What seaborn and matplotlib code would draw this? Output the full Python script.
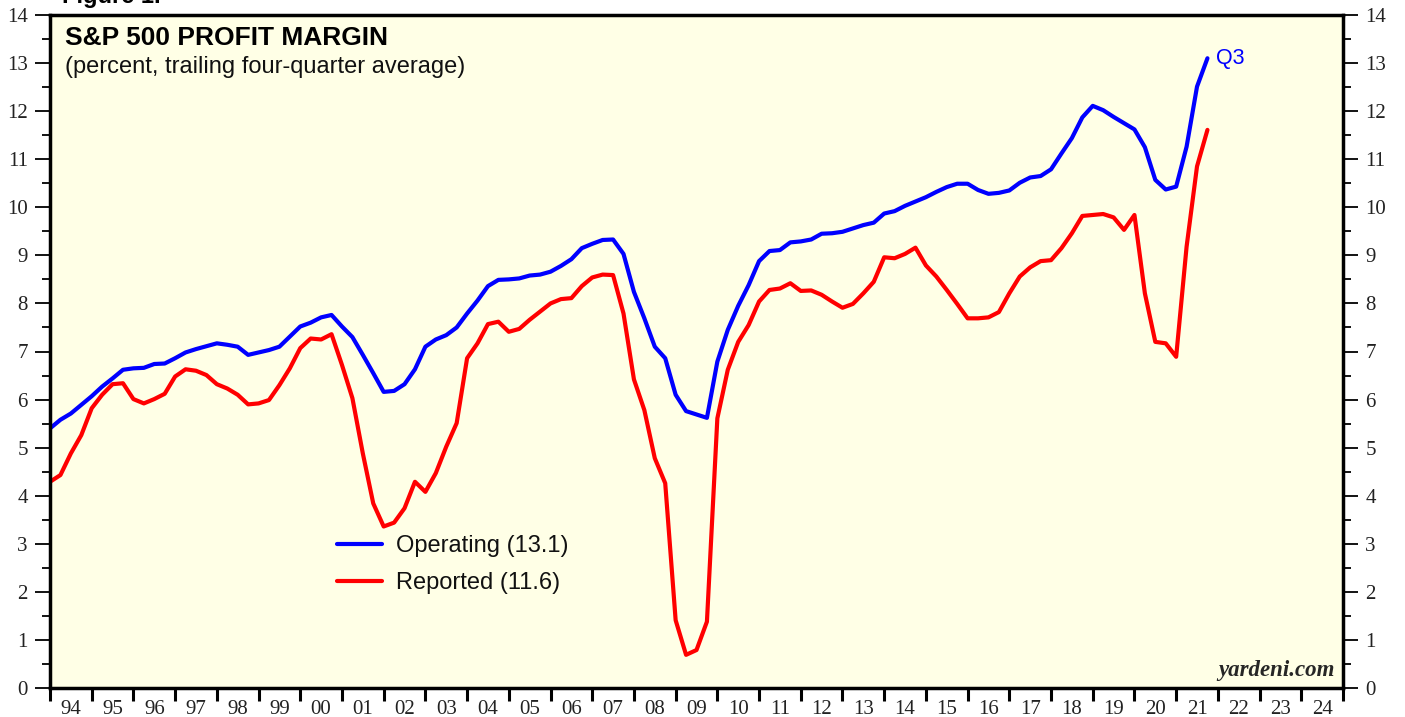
import numpy as np
import pandas as pd
import matplotlib
matplotlib.use('Agg')
import matplotlib.pyplot as plt
from matplotlib.lines import Line2D
from matplotlib.ticker import FixedLocator, MultipleLocator, NullFormatter, FixedFormatter
import seaborn as sns

# ---------------- data ----------------
quarters = pd.period_range('1993Q4', '2021Q3', freq='Q')

operating = [
    5.40, 5.58, 5.71, 5.89, 6.07, 6.27, 6.44, 6.62, 6.65, 6.66, 6.74, 6.75,
    6.86, 6.98, 7.05, 7.11, 7.17, 7.14, 7.10, 6.93, 6.98, 7.03, 7.10, 7.31,
    7.52, 7.60, 7.71, 7.76, 7.52, 7.30, 6.93, 6.55, 6.16, 6.18, 6.32, 6.63,
    7.10, 7.25, 7.34, 7.50, 7.79, 8.06, 8.36, 8.49, 8.50, 8.52, 8.58, 8.60,
    8.66, 8.78, 8.92, 9.15, 9.24, 9.32, 9.33, 9.03, 8.24, 7.69, 7.10, 6.86,
    6.10, 5.76, 5.69, 5.62, 6.79, 7.45, 7.95, 8.38,
    8.88, 9.09, 9.11, 9.27, 9.29, 9.33, 9.45, 9.46, 9.49, 9.56, 9.63, 9.68,
    9.87, 9.92, 10.03, 10.12, 10.21, 10.32, 10.42, 10.49, 10.49, 10.36, 10.28, 10.30,
    10.35, 10.51, 10.62, 10.65, 10.79, 11.12, 11.44, 11.87, 12.11, 12.02, 11.88, 11.75,
    11.62, 11.25, 10.57, 10.37, 10.43, 11.26, 12.51, 13.10,
]

reported = [
    4.29, 4.43, 4.88, 5.26, 5.82, 6.10, 6.32, 6.34, 6.01, 5.92, 6.01, 6.12,
    6.48, 6.63, 6.60, 6.51, 6.32, 6.23, 6.10, 5.90, 5.92, 5.99, 6.30, 6.65,
    7.07, 7.27, 7.25, 7.36, 6.72, 6.03, 4.88, 3.84, 3.36, 3.44, 3.74, 4.29,
    4.08, 4.47, 5.02, 5.51, 6.86, 7.17, 7.57, 7.62, 7.41, 7.47, 7.66, 7.83,
    8.00, 8.09, 8.11, 8.36, 8.54, 8.60, 8.59, 7.79, 6.42, 5.78, 4.78, 4.26,
    1.41, 0.69, 0.79, 1.38, 5.61, 6.62, 7.20, 7.55,
    8.04, 8.28, 8.31, 8.42, 8.26, 8.27, 8.18, 8.04, 7.91, 7.99, 8.21, 8.45,
    8.96, 8.94, 9.03, 9.16, 8.79, 8.56, 8.28, 7.99, 7.69, 7.69, 7.71, 7.82,
    8.21, 8.56, 8.75, 8.88, 8.90, 9.15, 9.46, 9.82, 9.84, 9.86, 9.79, 9.53,
    9.84, 8.21, 7.20, 7.17, 6.89, 9.18, 10.85, 11.61,
]

series_names = ['Operating', 'Reported']
legend_labels = ['Operating (13.1)', 'Reported (11.6)']
year_labels = ['94', '95', '96', '97', '98', '99', '00', '01', '02', '03', '04',
               '05', '06', '07', '08', '09', '10', '11', '12', '13', '14', '15',
               '16', '17', '18', '19', '20', '21', '22', '23', '24']
first_year = 1994

# ---------------- build frame ----------------
t = (quarters.year + quarters.quarter / 4.0).to_numpy(dtype=float)
n = len(t)
df = pd.DataFrame({
    't': np.concatenate([t, t]),
    'value': np.array(operating + reported),
    'series': [series_names[0]] * n + [series_names[1]] * n,
})

sns.set_theme(style='white')
plt.rcParams['font.family'] = ['Liberation Sans', 'DejaVu Sans']

colors = {'Operating': '#0000FF', 'Reported': '#FF0000'}
LW = 3.0

fig = plt.figure(figsize=(14.05, 7.17), dpi=100)
fig.patch.set_facecolor('white')
ax = fig.add_axes([50 / 1405, 29 / 717, 1293 / 1405, 673 / 717])
ax.set_facecolor('#FFFFE6')

sns.lineplot(data=df, x='t', y='value', hue='series', palette=colors,
             linewidth=LW, ax=ax, legend=False, sort=False)

n_years = len(year_labels)
ax.set_xlim(first_year, first_year + n_years)
ax.set_ylim(0, 14)
ax.set_xlabel('')
ax.set_ylabel('')

serif = ['Liberation Serif', 'DejaVu Serif']

# x axis: year boundaries as ticks, labels centred in each year
ax.xaxis.set_major_locator(FixedLocator(np.arange(first_year, first_year + n_years + 1)))
ax.xaxis.set_major_formatter(NullFormatter())
ax.xaxis.set_minor_locator(FixedLocator(np.arange(first_year, first_year + n_years) + 0.5))
ax.xaxis.set_minor_formatter(FixedFormatter(year_labels))
ax.tick_params(axis='x', which='major', direction='out', length=9.5, width=2.2,
               color='black', bottom=True)
ax.tick_params(axis='x', which='minor', length=0, pad=8.5, labelsize=15,
               labelcolor='#222222')

# y axis both sides
ax.yaxis.set_major_locator(MultipleLocator(1))
ax.yaxis.set_minor_locator(MultipleLocator(0.5))
ax.tick_params(axis='y', which='both', left=True, right=True,
               labelleft=True, labelright=True, direction='out', color='black')
ax.tick_params(axis='y', which='major', length=11, width=1.3, pad=5,
               labelsize=15, labelcolor='#222222')
ax.tick_params(axis='y', which='minor', length=5.5, width=1.3)
for lab in ax.xaxis.get_ticklabels(which='both') + ax.yaxis.get_ticklabels(which='both'):
    lab.set_fontfamily(serif)

for side in ['left', 'right', 'top', 'bottom']:
    ax.spines[side].set_visible(True)
    ax.spines[side].set_color('black')
    ax.spines[side].set_linewidth(2.5)

# titles
ax.text(15 / 1293, 1 - 11 / 673, 'S&P 500 PROFIT MARGIN',
        transform=ax.transAxes, fontsize=19, fontweight='bold', va='top', ha='left',
        color='black')
ax.text(15 / 1293, 1 - 41 / 673, '(percent, trailing four-quarter average)',
        transform=ax.transAxes, fontsize=17, va='top', ha='left', color='#111111')

# last-point annotation
ax.annotate('Q3', xy=(t[-1], operating[-1]), xytext=(6, 0), textcoords='offset points',
            color='#0000FF', fontsize=15.5, va='center', ha='left')

# watermark
ax.text(1 - 8 / 1293, 7 / 673, 'yardeni.com', transform=ax.transAxes,
        fontsize=16.5, fontweight='bold', fontstyle='italic', ha='right', va='bottom',
        family=serif)

# legend
handles = [Line2D([0], [0], color=colors[s], lw=LW) for s in series_names]
leg = ax.legend(handles, legend_labels, loc='upper left',
                bbox_to_anchor=(287 / 1293, (688 - 535) / 673),
                frameon=False, fontsize=17, handlelength=1.9, handletextpad=0.6,
                labelspacing=0.63, borderpad=0, borderaxespad=0)
for txt in leg.get_texts():
    txt.set_color('#111111')

# clipped figure caption at top edge (as in the reference)
fig.text(62 / 1405, 1 - 3 / 717, 'Figure 1.', fontsize=17, fontweight='bold',
         va='baseline', ha='left', color='black')

fig.savefig('out.png', dpi=100, facecolor='white')
